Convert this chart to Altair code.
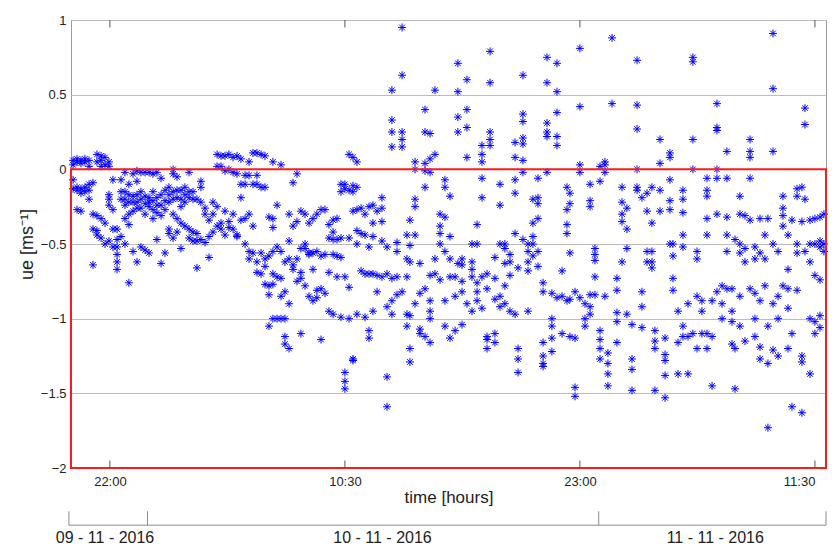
import altair as alt
import pandas as pd

# ---- data: time in hours since 2016-11-09 00:00, ue in m/s ----
col_times = [
    20.04, 20.25, 20.46, 20.67, 20.89, 21.1, 21.31, 21.53, 21.74, 21.95,
    22.16, 22.38, 22.59, 22.8, 23.01, 23.23, 23.44, 23.65, 23.87, 24.08,
    24.29, 24.5, 24.72, 24.93, 25.14, 25.36, 25.57, 25.78, 25.99, 26.21,
    26.42, 26.63, 26.84, 27.06, 27.27, 27.48, 27.7, 27.91, 28.12, 28.33,
    28.55, 28.76, 28.97, 29.19, 29.4, 29.61, 29.82, 30.04, 30.25, 30.46,
    30.67, 30.89, 31.1, 31.31, 31.53, 31.74, 31.95, 32.16, 32.38, 32.59,
    32.8, 33.01, 33.23, 33.44, 33.65, 33.87, 34.08, 34.29, 34.5, 34.72,
    34.93, 35.14, 35.36, 35.57, 35.78, 35.99, 36.21,
    36.47, 36.74, 37.0, 37.27, 37.54, 37.8, 37.96, 38.23, 38.49, 38.76,
    39.03, 39.29, 39.56, 39.82, 40.09, 40.36, 40.51, 40.73, 40.99, 41.26,
    41.53, 41.79, 42.06, 42.22, 42.48, 42.75, 43.01, 43.28, 43.55, 43.71,
    43.97, 44.24, 44.5, 44.77, 45.04, 45.25, 45.51, 45.78, 46.05, 46.31,
    46.47, 46.74, 47.0, 47.27, 47.54, 47.8, 48.07, 48.33, 48.49, 48.71,
    48.97, 49.24, 49.5, 49.77, 50.04, 50.3, 50.57, 50.83, 50.99, 51.26,
    51.53, 51.79, 51.95, 52.22, 52.48, 52.75, 53.01, 53.23, 53.49, 53.76,
    54.03, 54.29, 54.56, 54.82, 55.09, 55.25, 55.51, 55.78, 56.05, 56.31,
    56.58, 56.84, 57.0, 57.27, 57.54, 57.8, 58.07, 58.28, 58.55, 58.81,
    58.97, 59.24, 59.5, 59.77, 59.98,
]

col_values = [
    [0.06, 0.03, -0.07, -0.13],
    [0.05, 0.07, -0.14, -0.27, -0.12],
    [0.06, 0.04, -0.13, -0.16, -0.28],
    [0.05, 0.07, -0.12, -0.15],
    [0.06, 0.02, -0.14, -0.2, -0.1],
    [-0.09, -0.3, -0.4, -0.64],
    [0.1, 0.05, -0.31, -0.41, -0.44],
    [0.09, 0.06, 0.02, -0.33, -0.46],
    [0.08, 0.03, -0.5, -0.36],
    [0.05, 0.02, -0.17, -0.2, -0.24, -0.48],
    [-0.07, -0.4, -0.27, -0.52],
    [-0.4, -0.47, -0.52, -0.57, -0.62, -0.67],
    [-0.07, -0.45, -0.15, -0.2],
    [-0.02, -0.15, -0.2, -0.33, -0.5, -0.24],
    [-0.1, -0.22, -0.37, -0.3, -0.76, -0.17],
    [-0.03, -0.18, -0.28, -0.55, -0.22],
    [-0.01, -0.08, -0.22, -0.17, -0.62, -0.26],
    [-0.02, -0.2, -0.26, -0.52, -0.15],
    [-0.02, -0.23, -0.3, -0.54, -0.18],
    [-0.02, -0.25, -0.19, -0.56, -0.22],
    [-0.03, -0.27, -0.21, -0.33, -0.15],
    [-0.02, -0.29, -0.47, -0.19, -0.24],
    [-0.06, -0.24, -0.31, -0.63, -0.17],
    [-0.14, -0.21, -0.56, -0.27],
    [-0.12, -0.4, -0.43, -0.17, -0.22],
    [0.0, -0.03, -0.15, -0.3, -0.46, -0.2],
    [-0.05, -0.19, -0.33, -0.42, -0.14],
    [-0.14, -0.2, -0.36, -0.53, -0.25],
    [-0.17, -0.12, -0.38, -0.22],
    [-0.02, -0.19, -0.4, -0.46, -0.15],
    [-0.15, -0.42, -0.48, -0.2],
    [-0.2, -0.43, -0.48, -0.66],
    [-0.08, -0.12, -0.22, -0.47],
    [-0.26, -0.49, -0.3],
    [-0.34, -0.59, -0.45],
    [-0.22, -0.3, -0.42],
    [0.1, 0.02, -0.25, -0.38],
    [0.09, 0.02, -0.36, -0.4],
    [0.09, -0.01, -0.28, -0.44],
    [0.1, 0.0, -0.35, -0.39],
    [0.08, -0.02, -0.4, -0.3],
    [0.09, -0.03, -0.45, -0.44],
    [0.07, -0.1, -0.19, -0.34],
    [-0.04, -0.5, -0.1, -0.33],
    [0.05, -0.04, -0.55, -0.6, -0.3],
    [0.11, -0.1, -0.56, -0.38],
    [0.11, -0.04, -0.62, -0.69, -0.1],
    [0.1, -0.12, -0.56, -0.7],
    [0.09, -0.12, -0.65, -0.77, -0.6],
    [-0.32, -0.58, -0.78, -0.84, -1.05],
    [0.05, -0.33, -0.39, -0.55, -0.77, -1.0, -0.7],
    [-0.24, -0.52, -0.72, -1.0],
    [0.03, -0.55, -0.85, -1.0, -0.73],
    [-0.62, -0.82, -1.12, -1.17, -1.0],
    [-0.3, -0.6, -0.9, -1.2, -0.48],
    [-0.09, -0.38, -0.64, -0.67],
    [-0.03, -0.35, -0.75, -0.6],
    [-0.28, -0.69, -0.53, -0.73, -1.1],
    [-0.3, -0.53, -0.78, -0.5],
    [-0.36, -0.56, -0.85, -0.57],
    [-0.33, -0.56, -0.88, -0.67],
    [-0.3, -0.55, -0.81, -0.86],
    [-0.27, -0.58, -0.8, -1.14],
    [-0.27, -0.57, -0.83],
    [-0.37, -0.46, -0.69, -0.95],
    [-0.34, -0.57, -0.47, -0.97, -0.42],
    [-0.33, -0.47, -0.58, -0.72],
    [-0.1, -0.15, -0.46, -0.59, -0.99],
    [-0.1, -0.13, -0.72, -1.36, -1.42, -1.47],
    [0.1, -0.14, -0.46, -0.79, -1.0],
    [0.08, -0.11, -0.15, -0.28, -1.28, -1.27],
    [0.05, -0.12, -0.27, -0.41, -0.5, -0.97],
    [-0.26, -0.43, -0.68],
    [-0.3, -0.44, -0.7, -0.99],
    [-0.25, -0.52, -0.7, -1.08, -1.13],
    [-0.24, -0.36, -0.45, -0.7, -0.95],
    [-0.28, -0.71, -0.82],
    [-0.19, -0.26, -0.35, -0.48, -0.72],
    [-0.7, -0.92, -1.39, -1.59, -0.52],
    [0.53, 0.33, 0.25, 0.15, -0.73, -0.88, -0.97],
    [-0.49, -0.55, -0.84, -0.72],
    [0.95, 0.63, 0.25, 0.2, 0.15, -0.82],
    [-0.6, -0.72, -0.97, -1.05, -0.44],
    [-0.34, -0.51, -1.2, -1.29, -0.98, -0.62],
    [0.05, 0.0, -0.2, -0.25, -0.44, -0.9],
    [-0.63, -0.83, -1.07, -1.1],
    [0.4, 0.25, 0.04, -0.12, -0.01, -0.8, -1.12],
    [-0.02, 0.24, 0.07, -0.71, -0.95, -1.0, -1.16, -0.88],
    [0.53, 0.1, -0.7, -0.6],
    [-0.3, -0.38, -0.43, -0.5, -0.74],
    [-0.07, -0.12, -0.32, -0.55, -0.88, -1.05],
    [-0.18, -0.45, -0.6, -0.72, -1.13],
    [-0.72, -0.85, -1.08],
    [0.71, 0.52, 0.35, 0.25, -0.63],
    [-0.6, -0.64, -0.75, -0.82, -1.04],
    [0.6, 0.4, 0.28, 0.08, -0.9],
    [-0.5, -0.62, -0.67, -0.72, -0.95],
    [-0.37, -0.5, -0.76, -0.82, -0.88],
    [0.16, 0.1, 0.05, -0.06, -0.19, -0.72, -0.93],
    [-0.7, -0.8, -1.12, -1.14, -1.2],
    [0.79, 0.58, 0.25, 0.2, 0.16],
    [-0.59, -0.73, -0.87, -1.1, -1.16],
    [-0.1, -0.24, -0.5, -0.85, -0.92],
    [-0.5, -0.53, -0.63, -0.78, -0.9],
    [-0.57, -0.62, -0.71, -0.95],
    [0.18, 0.08, -0.07, -0.16, -0.43, -0.97],
    [-1.2, -1.27, -1.36, -0.66],
    [0.63, 0.37, 0.32, 0.21, 0.17, 0.06, -0.02, -0.47],
    [-0.62, -0.68, -0.95, -0.55, -0.5],
    [-0.36, -0.45, -0.5, -0.58, -0.2],
    [-0.06, -0.19, -0.23, -0.55, -0.65, -0.33],
    [-0.76, -0.82, -1.16, -1.25, -1.32, -1.3],
    [0.75, 0.58, 0.31, 0.25, 0.22, -0.02],
    [-0.83, -1.0, -1.05, -1.13, -1.22],
    [0.71, 0.52, 0.38, 0.22, 0.16, -0.86],
    [-0.68, -0.85, -1.1],
    [-0.12, -0.27, -0.37, -0.43, -0.88],
    [-0.16, -0.23, -0.56, -0.87, -1.12],
    [-0.82, -1.46, -1.52, -1.13],
    [0.81, 0.42, 0.03, -0.02, -0.86],
    [-0.9, -1.0, -1.05],
    [-0.1, -0.21, -0.25, -0.84, -0.92, -0.97],
    [-0.53, -0.57, -0.61, -0.72, -0.84],
    [0.02, -0.08, -1.08, -1.14, -1.2, -1.27],
    [0.05, 0.03, -0.02, -0.85],
    [-1.23, -1.3, -1.37, -1.45],
    [0.88, 0.44],
    [-0.73, -0.81, -0.96, -1.02, -1.16],
    [-0.12, -0.22, -0.35, -0.62, -0.3],
    [-0.26, -0.4, -0.53, -0.97],
    [-1.27, -1.34, -1.48, -1.04],
    [0.73, 0.43, 0.27, 0.0, -0.14, -0.12],
    [-0.82, -0.92, -1.06, -0.19],
    [-0.16, -0.28, -0.55, -0.62],
    [-0.36, -0.55, -0.62, -0.66, -0.12],
    [-1.08, -1.15, -1.2, -1.48],
    [0.2, 0.04, -0.14, -0.28],
    [-1.13, -1.24, -1.28, -1.38, -1.53],
    [0.11, 0.08, -0.07, -0.21, -0.27, -0.5],
    [-0.5, -0.58, -0.73, -0.81],
    [-1.16, -1.37, -0.95],
    [-0.14, -0.2, -0.29, -0.44, -0.52, -1.05, -1.12],
    [-0.9, -1.12, -1.37],
    [0.75, 0.72, 0.2, 0.0, -1.1],
    [-0.55, -0.6, -0.85, -1.2],
    [-0.88, -0.95, -1.1],
    [-0.06, -0.14, -0.18, -0.33, -0.44, -1.2, -1.1],
    [-0.88, -1.12, -1.45],
    [0.44, 0.28, 0.26, 0.0, -0.06, -0.3, -0.82],
    [-0.78, -0.9, -1.0],
    [0.12, -0.06, -0.32, -0.44, -0.55, -0.8],
    [-0.8, -0.95, -1.02, -1.17],
    [-1.47, -1.2, -0.47],
    [-0.18, -0.3, -0.5, -0.56, -0.85, -1.05],
    [-0.31, -0.53, -0.62, -1.15],
    [0.2, 0.12, 0.08, -0.06, -0.34, -0.8],
    [-0.52, -0.6, -0.83, -1.0, -1.12],
    [-0.33, -0.56, -0.88, -1.19, -1.27],
    [-0.44, -0.6, -0.78],
    [-0.33, -1.05, -1.3, -1.73],
    [0.91, 0.54, 0.12, -0.5, -0.9, -1.21],
    [-0.55, -0.85, -1.0, -1.25],
    [-0.18, -0.26, -0.31, -0.38, -0.78],
    [-0.44, -0.67, -0.8, -0.93, -1.2],
    [-0.34, -1.1, -1.59],
    [-0.13, -0.18, -0.5, -0.56, -0.81],
    [-0.35, -1.25, -1.29, -1.63, -0.12],
    [0.41, 0.3, -0.2, -0.55],
    [-0.34, -0.5, -0.62, -1.0, -1.37],
    [-0.33, -0.5, -0.71, -1.02, -1.1],
    [-0.32, -0.48, -0.52, -0.74, -0.98, -1.06],
    [-0.3, -0.5, -0.55],
]

x_domain = [19.93, 60.09]
y_domain = [-2, 1]
y_ticks = [-2, -1.5, -1, -0.5, 0, 0.5, 1]
hour_ticks = [22, 34.5, 47, 59.5]
hour_labels = ["22:00", "10:30", "23:00", "11:30"]
day_ticks = [19.82, 24, 48, 60.09]
day_label_pos = [21.74, 36.5, 54.2]
day_labels = ["09 - 11 - 2016", "10 - 11 - 2016", "11 - 11 - 2016"]
box_limits = [0, -2]          # red rectangle, ue range
date_axis_levels = [-2.383, -2.29, -2.47]   # line, tick top, label
tick_len = 0.05

# ---- tables ----
rows = [{"t": t, "u": u} for t, vals in zip(col_times, col_values) for u in vals]
df = pd.DataFrame(rows)

FONT = "Liberation Sans"
xs = alt.Scale(domain=x_domain, nice=False, zero=False)
ys = alt.Scale(domain=y_domain, nice=False, zero=False)

label_expr = " : ".join(
    f"datum.value == {v} ? '{l}'" for v, l in zip(hour_ticks, hour_labels)
) + " : ''"

xaxis = alt.Axis(values=hour_ticks, labelExpr=label_expr, grid=False, ticks=False,
                 domain=False, labelPadding=7, labelFontSize=13, labelColor="#222222",
                 labelFont=FONT, title="time [hours]", titleFont=FONT, titleFontSize=17,
                 titleFontWeight="normal", titleColor="#222222", titlePadding=1,
                 labelFlush=15)
yaxis = alt.Axis(values=y_ticks, format="~g", grid=True, gridColor="#bcbcbc",
                 gridWidth=1, ticks=False, domain=False, labelPadding=5,
                 labelFontSize=13, labelColor="#222222", labelFont=FONT,
                 title="ue [ms⁻¹]", titleFont=FONT, titleFontSize=18,
                 titleFontWeight="normal", titleColor="#222222", titlePadding=4)

X = lambda: alt.X("t:Q", scale=xs, axis=xaxis)
Y = lambda: alt.Y("u:Q", scale=ys, axis=yaxis)

star = "M-1,0L1,0M0,-1L0,1M-0.7,-0.7L0.7,0.7M-0.7,0.7L0.7,-0.7"
points = alt.Chart(df).mark_point(
    shape=star, filled=False, color="#0000ff", strokeWidth=1, size=64, opacity=1
).encode(x=X(), y=Y())

box_df = pd.DataFrame({"t": [x_domain[0]], "t2": [x_domain[1]],
                       "u": [box_limits[0]], "u2": [box_limits[1]]})
box = alt.Chart(box_df).mark_rect(filled=False, stroke="#ff1a1a", strokeWidth=2).encode(
    x=X(), x2="t2:Q", y=Y(), y2="u2:Q")

tick_rows = []
for h in hour_ticks:
    tick_rows.append({"t": h, "u": y_domain[1], "u2": y_domain[1] - tick_len})
    tick_rows.append({"t": h, "u": y_domain[0], "u2": y_domain[0] + tick_len})
inner_ticks = alt.Chart(pd.DataFrame(tick_rows)).mark_rule(
    color="#555555", strokeWidth=1).encode(x=X(), y=Y(), y2="u2:Q")

line_df = pd.DataFrame({"t": [day_ticks[0]], "t2": [day_ticks[-1]],
                        "u": [date_axis_levels[0]]})
date_line = alt.Chart(line_df).mark_rule(color="#8c8c8c", strokeWidth=1).encode(
    x=X(), x2="t2:Q", y=Y())
dtick_df = pd.DataFrame({"t": day_ticks, "u": [date_axis_levels[0]] * len(day_ticks),
                         "u2": [date_axis_levels[1]] * len(day_ticks)})
date_ticks = alt.Chart(dtick_df).mark_rule(color="#8c8c8c", strokeWidth=1).encode(
    x=X(), y=Y(), y2="u2:Q")
dlab_df = pd.DataFrame({"t": day_label_pos, "u": [date_axis_levels[2]] * 3,
                        "label": day_labels})
date_text = alt.Chart(dlab_df).mark_text(
    font=FONT, fontSize=16, color="#222222", align="center", baseline="middle"
).encode(x=X(), y=Y(), text="label:N")

chart = alt.layer(points, box, inner_ticks, date_line, date_ticks, date_text).properties(
    width=755, height=448,
    autosize=alt.AutoSizeParams(type="none"),
    padding={"left": 63, "top": 12, "right": 3, "bottom": 78},
    background="white",
).configure_view(stroke="#9a9a9a", strokeWidth=1)

chart.save("out.html", embed_options={"renderer": "svg", "actions": False})
